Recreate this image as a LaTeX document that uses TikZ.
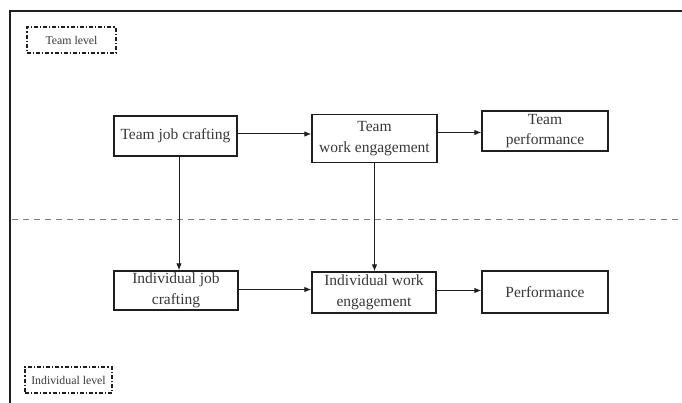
\documentclass[tikz,border=0pt]{standalone}
\usepackage{fontspec}
\setmainfont{Liberation Serif}
\usetikzlibrary{arrows.meta}
\definecolor{txt}{HTML}{383838}
\definecolor{ln}{HTML}{1E1E1E}
\tikzset{
  box/.style={draw=ln, line width=1.3pt, fill=white, inner sep=0pt, align=center,
    text=txt, font=\fontsize{15.5}{20.5}\selectfont},
  lvl/.style={draw=ln, line width=1.1pt, dash pattern=on 4pt off 2pt on 1.2pt off 2pt,
    inner sep=0pt, text=txt, font=\fontsize{11.8}{13}\selectfont},
  arr/.style={draw=ln, line width=1pt, -{Latex[length=7pt,width=5.5pt]}}
}
\begin{document}
\begin{tikzpicture}[x=1pt,y=-1pt]
\useasboundingbox (0,0) rectangle (682,403);
\fill[white] (0,0) rectangle (682,403);
% frame
\coordinate (fbl) at (10,403);
\coordinate (ftl) at (10,11);
\coordinate (ftr) at (682,11);
\draw[ln, line width=1.6pt] (fbl) -- (ftl) -- (ftr);
% separator
\coordinate (dl) at (12,220);
\coordinate (dr) at (682,220);
\draw[gray, line width=1pt, dash pattern=on 6pt off 5pt] (dl) -- (dr);
% level labels
\node[lvl, minimum width=89pt, minimum height=26pt] (tl) at (71.5,40) {Team level};
\node[lvl, minimum width=87pt, minimum height=26pt] (il) at (68.5,380) {Individual level};
% boxes
\node[box, minimum width=123pt, minimum height=40pt] (tjc) at (175.5,136) {Team job crafting};
\node[box, minimum width=125pt, minimum height=48pt] (twe) at (374.5,138.5) {Team\\work engagement};
\node[box, minimum width=126pt, minimum height=40pt] (tp) at (545,131) {Team\\performance};
\node[box, minimum width=124pt, minimum height=39pt] (ijc) at (176,290.5) {Individual job\\crafting};
\node[box, minimum width=124pt, minimum height=41pt] (iwe) at (374,292.5) {Individual work\\engagement};
\node[box, minimum width=126pt, minimum height=42pt] (p) at (545,292) {Performance};
% arrows
\draw[arr] ([yshift=2pt]tjc.east) -- ([yshift=2pt]tjc.east -| twe.west);
\draw[arr] ([yshift=6pt]twe.east) -- ([yshift=6pt]twe.east -| tp.west);
\draw[arr] ([yshift=1pt]ijc.east) -- ([yshift=1pt]ijc.east -| iwe.west);
\draw[arr] ([yshift=2pt]iwe.east) -- ([yshift=2pt]iwe.east -| p.west);
\draw[arr] ([xshift=3.5pt]tjc.south) -- ([xshift=3.5pt]tjc.south |- ijc.north);
\draw[arr] (twe.south) -- (twe.south |- iwe.north);
\end{tikzpicture}
\end{document}
